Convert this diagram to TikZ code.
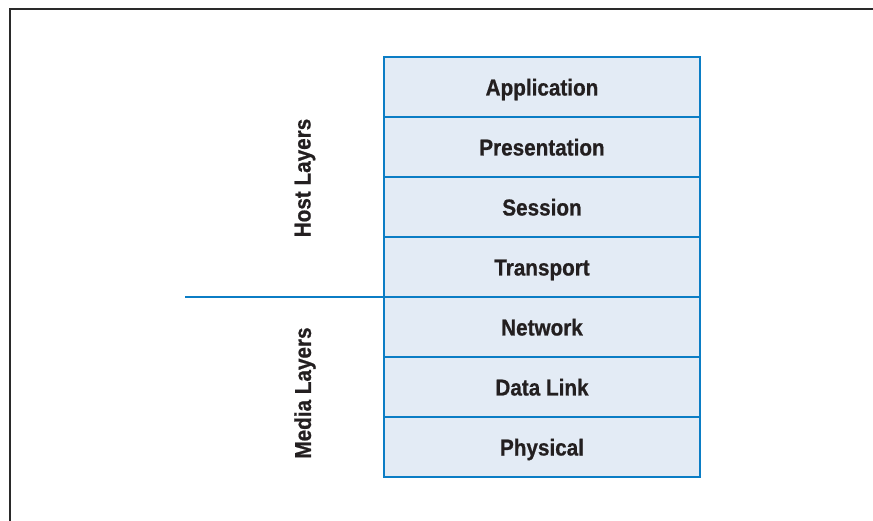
\documentclass[tikz,border=0pt]{standalone}
\usepackage{fontspec}
\usepackage{xcolor}
\usepackage{tikz}
\usetikzlibrary{positioning}
\newfontfamily\layerfont{Liberation Sans Bold}[FakeStretch=0.9, FakeBold=0.8]
\definecolor{osiblue}{HTML}{0B7DC5}
\definecolor{osifill}{HTML}{E3EBF5}
\definecolor{ositext}{HTML}{231F20}
\definecolor{framegray}{HTML}{2A2A2A}
\tikzstyle{layerbox} = [draw=osiblue, fill=osifill, line width=2.3pt, outer sep=0pt,
rectangle, minimum width=316pt, minimum height=60pt, inner sep=0pt,
text height=17pt, text depth=0pt,
font=\layerfont\fontsize{23}{25}\selectfont, text=ositext]
\tikzstyle{sidelabel} = [rotate=90, font=\layerfont\fontsize{23}{25}\selectfont,
text=ositext, inner sep=0pt]

\begin{document}
\begin{tikzpicture}[x=1pt, y=-1pt]
        \useasboundingbox (0,0) rectangle (873,521);
        \draw [framegray, line width=1.3pt] (10,521) -- (10,9) -- (873,9);
        \node [layerbox] (app) at (542,87) {Application};
        \node [layerbox, below=0pt of app] (pres) {Presentation};
        \node [layerbox, below=0pt of pres] (sess) {Session};
        \node [layerbox, below=0pt of sess] (trans) {Transport};
        \node [layerbox, below=0pt of trans] (net) {Network};
        \node [layerbox, below=0pt of net] (link) {Data Link};
        \node [layerbox, below=0pt of link] (phys) {Physical};
        \coordinate (split) at (185,297);
        \draw [osiblue, line width=2.3pt] (split) -- (trans.south west);
        \node [sidelabel] (host) at (305,178) {Host Layers};
        \node [sidelabel] (media) at (305,393) {Media Layers};
    \end{tikzpicture}
\end{document}
